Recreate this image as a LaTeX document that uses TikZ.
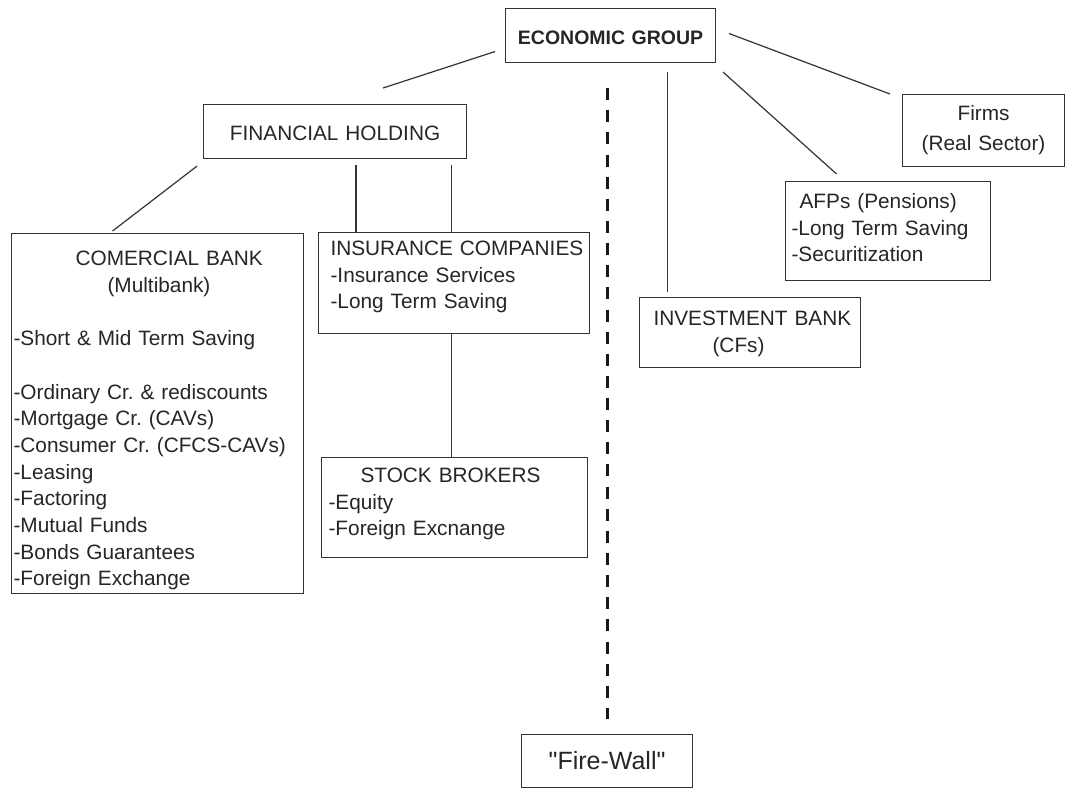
\documentclass[tikz,border=0pt]{standalone}
\usepackage{fontspec}
\setmainfont{Liberation Sans}
\frenchspacing
\newcommand{\unitfont}{\fontsize{20.8}{26.7}\selectfont}
\tikzset{
  unit/.style={draw=black!80,line width=1.1pt,anchor=north west,inner ysep=0pt,text=black!85,font=\unitfont},
  link/.style={draw=black!80,line width=1.2pt},
  firewall/.style={draw=black!90,line width=3pt,dash pattern=on 12pt off 10.14pt}
}

\begin{document}
\begin{tikzpicture}[x=1pt,y=-1pt]
\useasboundingbox[fill=white] (0,0) rectangle (1067,788);
\node[unit,inner xsep=0pt,text width=210pt,text height=36pt,text depth=18pt,align=center,font=\fontsize{19.5}{24}\selectfont\bfseries] (eg) at (505,8) {ECONOMIC GROUP};
\node[unit,inner xsep=0pt,text width=263pt,text height=36pt,text depth=18pt,align=center] (fh) at (203,104) {FINANCIAL HOLDING};
\node[unit,inner xsep=2pt,text width=288pt,text height=32pt,text depth=328pt,align=left] (cb) at (11,233) {\hspace*{62pt}COMERCIAL BANK\\
\hspace*{94pt}(Multibank)\\[26.7pt]
-Short \& Mid Term Saving\\[26.7pt]
-Ordinary Cr. \& rediscounts\\
-Mortgage Cr. (CAVs)\\
-Consumer Cr. (CFCS-CAVs)\\
-Leasing\\
-Factoring\\
-Mutual Funds\\
-Bonds Guarantees\\
-Foreign Exchange};
\node[unit,inner xsep=12pt,text width=247pt,text height=23pt,text depth=78pt,align=left] (ins) at (318,232) {\mbox{INSURANCE COMPANIES}\\-Insurance Services\\-Long Term Saving};
\node[unit,inner xsep=7pt,text width=252pt,text height=25pt,text depth=75pt,align=left] (stock) at (321,457) {\hspace*{32pt}STOCK BROKERS\\-Equity\\-Foreign Excnange};
\node[unit,inner xsep=0pt,text width=162pt,text height=26pt,text depth=46pt,align=center] (firms) at (902,94) {Firms\\[3.3pt](Real Sector)};
\node[unit,inner xsep=6pt,text width=193pt,text height=27pt,text depth=72pt,align=left] (afp) at (785,181) {\hspace*{8pt}AFPs (Pensions)\\-Long Term Saving\\-Securitization};
\node[unit,inner xsep=11pt,text width=199pt,text height=28pt,text depth=42pt,align=left] (ib) at (639,297) {\hspace*{3pt}\mbox{INVESTMENT BANK}\\\hspace*{62pt}(CFs)};
\node[unit,inner xsep=0pt,text width=171pt,text height=35pt,text depth=18pt,align=center,font=\fontsize{25}{30}\selectfont] (fw) at (521,734) {\textquotedbl Fire-Wall\textquotedbl};
\draw[link] ([shift={(-10,16)}]eg.west) -- ([shift={(48,-16)}]fh.north);
\draw[link] ([shift={(13,-2)}]eg.east) -- ([shift={(-12,0)}]firms.north west);
\draw[link] ([shift={(7,9)}]eg.south east) -- ([shift={(-51.5,-7)}]afp.north);
\coordinate (ibtop) at ([shift={(-82.5,-5)}]ib.north);
\draw[link] (ibtop |- eg.south) ++(0,9) -- (ibtop);
\draw[link] ([shift={(-6,7)}]fh.south west) -- ([shift={(-45,-2)}]cb.north);
\coordinate (insl) at ([shift={(38,0)}]ins.north west);
\coordinate (insr) at ([shift={(-2.5,0)}]ins.north);
\draw[link] (insl |- fh.south) ++(0,6) -- (insl);
\draw[link] (insr |- fh.south) ++(0,6) -- (insr);
\draw[link] (insr |- ins.south) -- (insr |- stock.north);
\draw[firewall] (fw.north |- eg.south) ++(0,25) -- ([shift={(0,-15)}]fw.north);
\end{tikzpicture}
\end{document}
